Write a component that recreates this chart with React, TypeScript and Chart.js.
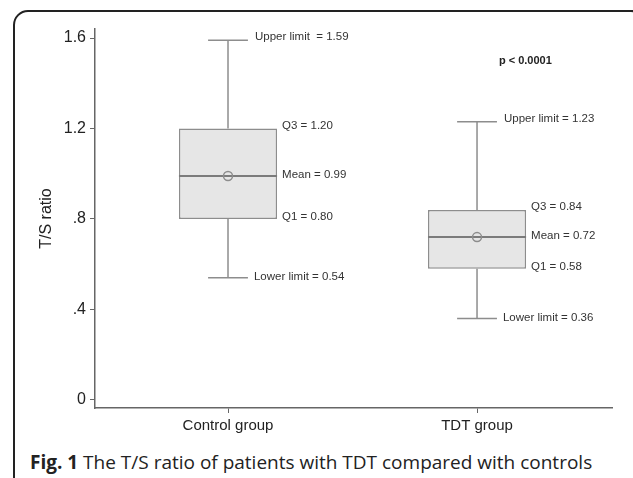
import React, { useEffect, useRef } from 'react';
import { Chart, registerables } from 'chart.js';

Chart.register(...registerables);

// ---- data ----
const categories = ['Control group', 'TDT group'];
const groupX = [1, 2];
const lowerLimit = [0.54, 0.36];
const q1 = [0.8, 0.58];
const median = [0.99, 0.72];
const mean = [0.99, 0.72];
const q3 = [1.2, 0.84];
const upperLimit = [1.59, 1.23];
const yTicks = [0, 0.4, 0.8, 1.2, 1.6];
const yTickLabels = ['0', '.4', '.8', '1.2', '1.6'];
const upperPrefix = ['Upper limit  = ', 'Upper limit = '];
const pValueText = 'p < 0.0001';

// ---- style ----
const STROKE = '#8d8d8d';
const MEDIAN = '#7b7b7b';
const FILL = '#e6e6e6';
const AXIS = '#666666';
const TEXT = '#222222';
const LABEL_FONT = '11.5px "Liberation Sans", Arial, sans-serif';
const BOX_HALF = 0.197;
const CAP_HALF = 0.08;

const boxPlugin = {
  id: 'boxExtras',
  beforeDatasetsDraw(chart: any) {
    const xs = chart.scales.x;
    const ys = chart.scales.y;
    const ctx = chart.ctx;
    ctx.save();
    ctx.strokeStyle = STROKE;
    ctx.lineWidth = 1.5;
    const seg = (x1: number, y1: number, x2: number, y2: number) => {
      ctx.beginPath();
      ctx.moveTo(x1, y1);
      ctx.lineTo(x2, y2);
      ctx.stroke();
    };
    groupX.forEach((g, i) => {
      const px = xs.getPixelForValue(g);
      const cl = xs.getPixelForValue(g - CAP_HALF);
      const cr = xs.getPixelForValue(g + CAP_HALF);
      seg(px, ys.getPixelForValue(q3[i]), px, ys.getPixelForValue(upperLimit[i]));
      seg(cl, ys.getPixelForValue(upperLimit[i]), cr, ys.getPixelForValue(upperLimit[i]));
      seg(px, ys.getPixelForValue(q1[i]), px, ys.getPixelForValue(lowerLimit[i]));
      seg(cl, ys.getPixelForValue(lowerLimit[i]), cr, ys.getPixelForValue(lowerLimit[i]));
    });
    ctx.restore();
  },
  afterDatasetDraw(chart: any, args: any) {
    if (args.index !== 0) return;
    const xs = chart.scales.x;
    const ys = chart.scales.y;
    const ctx = chart.ctx;
    ctx.save();
    ctx.strokeStyle = MEDIAN;
    ctx.lineWidth = 2;
    groupX.forEach((g, i) => {
      const l = xs.getPixelForValue(g - BOX_HALF);
      const r = xs.getPixelForValue(g + BOX_HALF);
      const yy = ys.getPixelForValue(median[i]);
      ctx.beginPath();
      ctx.moveTo(l, yy);
      ctx.lineTo(r, yy);
      ctx.stroke();
    });
    ctx.restore();
  },
  afterDatasetsDraw(chart: any) {
    const xs = chart.scales.x;
    const ys = chart.scales.y;
    const ctx = chart.ctx;
    ctx.save();
    ctx.fillStyle = '#333333';
    ctx.font = LABEL_FONT;
    ctx.textBaseline = 'middle';
    ctx.textAlign = 'left';
    groupX.forEach((g, i) => {
      const capEnd = xs.getPixelForValue(g + CAP_HALF) + 7;
      const boxEnd = xs.getPixelForValue(g + BOX_HALF) + 5;
      ctx.fillText(upperPrefix[i] + upperLimit[i].toFixed(2), capEnd, ys.getPixelForValue(upperLimit[i]) - 3);
      ctx.fillText('Q3 = ' + q3[i].toFixed(2), boxEnd, ys.getPixelForValue(q3[i]) - 3);
      ctx.fillText('Mean = ' + mean[i].toFixed(2), boxEnd, ys.getPixelForValue(mean[i]) - 1);
      ctx.fillText('Q1 = ' + q1[i].toFixed(2), boxEnd, ys.getPixelForValue(q1[i]) - 2);
      ctx.fillText('Lower limit = ' + lowerLimit[i].toFixed(2), capEnd - 1, ys.getPixelForValue(lowerLimit[i]) - 1);
    });
    ctx.font = 'bold 11px "Liberation Sans", Arial, sans-serif';
    ctx.fillStyle = TEXT;
    ctx.fillText(pValueText, xs.getPixelForValue(2.088), ys.getPixelForValue(1.499));
    ctx.restore();
  },
};

export default function App() {
  const ref = useRef<HTMLCanvasElement | null>(null);

  useEffect(() => {
    if (!ref.current) return;
    const chart = new Chart(ref.current, {
      type: 'bar',
      data: {
        datasets: [
          {
            type: 'bar',
            order: 1,
            data: groupX.map((g, i) => ({ x: g, y: [q1[i], q3[i]] })) as any,
            backgroundColor: FILL,
            borderColor: STROKE,
            borderWidth: 1.5,
            borderSkipped: false,
            categoryPercentage: 1,
            barPercentage: BOX_HALF * 2,
          } as any,
          {
            type: 'scatter',
            order: 0,
            data: groupX.map((g, i) => ({ x: g, y: mean[i] })),
            pointRadius: 4.5,
            pointStyle: 'circle',
            borderColor: STROKE,
            backgroundColor: 'rgba(0,0,0,0)',
            borderWidth: 1.5,
          } as any,
        ],
      },
      options: {
        animation: false,
        responsive: false,
        layout: { padding: { top: 29, right: 21, left: 0, bottom: 0 } },
        plugins: {
          legend: { display: false },
          tooltip: { enabled: false },
        },
        scales: {
          x: {
            type: 'linear',
            offset: false,
            min: 0.4659,
            max: 2.542,
            afterBuildTicks: (s: any) => {
              s.ticks = groupX.map((v) => ({ value: v }));
            },
            afterFit: (s: any) => {
              s.height = 32;
            },
            ticks: {
              callback: (v: any) => {
                const k = groupX.indexOf(Number(v));
                return k >= 0 ? categories[k] : '';
              },
              autoSkip: false,
              maxRotation: 0,
              padding: 4,
              color: TEXT,
              font: { family: '"Liberation Sans", Arial, sans-serif', size: 15 },
            },
            grid: { display: true, offset: false, drawOnChartArea: false, drawTicks: true, tickLength: 5, color: AXIS, lineWidth: 1 },
            border: { display: true, color: AXIS, width: 1.5 },
          },
          y: {
            type: 'linear',
            min: -0.0354,
            max: 1.6398,
            afterBuildTicks: (s: any) => {
              s.ticks = yTicks.map((v) => ({ value: v }));
            },
            afterFit: (s: any) => {
              s.width = 95;
            },
            ticks: {
              callback: (v: any) => {
                const k = yTicks.indexOf(Number(v));
                return k >= 0 ? yTickLabels[k] : '';
              },
              padding: 4,
              color: TEXT,
              font: { family: '"Liberation Sans", Arial, sans-serif', size: 16 },
            },
            title: {
              display: true,
              text: 'T/S ratio',
              color: TEXT,
              padding: { top: 37, bottom: 0 },
              font: { family: '"Liberation Sans", Arial, sans-serif', size: 16 },
            },
            grid: { display: true, drawOnChartArea: false, drawTicks: true, tickLength: 5, color: AXIS, lineWidth: 1 },
            border: { display: true, color: AXIS, width: 1.5 },
          },
        },
      } as any,
      plugins: [boxPlugin],
    });
    return () => chart.destroy();
  }, []);

  return (
    <div
      style={{
        position: 'fixed',
        left: 0,
        top: 0,
        width: 633,
        height: 478,
        overflow: 'hidden',
        background: '#fff',
      }}
    >
      <div
        style={{
          position: 'absolute',
          left: 13,
          top: 10,
          width: 633,
          height: 520,
          boxSizing: 'border-box',
          border: '2px solid #222',
          borderRadius: 15,
        }}
      />
      <canvas ref={ref} width={633} height={440} style={{ position: 'absolute', left: 0, top: 0 }} />
      <div
        style={{
          position: 'absolute',
          left: 30,
          top: 452,
          fontFamily: '"Open Sans", sans-serif',
          fontSize: 19,
          lineHeight: '20px',
          color: '#222',
          whiteSpace: 'nowrap',
        }}
      >
        <b>Fig. 1</b> The T/S ratio of patients with TDT compared with controls
      </div>
    </div>
  );
}
